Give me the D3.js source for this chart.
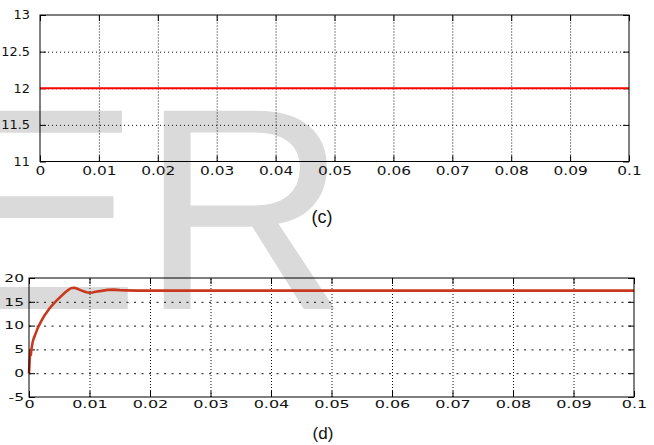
<!DOCTYPE html>
<html>
<head>
<meta charset="utf-8">
<script src="https://cdn.jsdelivr.net/npm/d3@7/dist/d3.min.js"></script>
<style>
  html, body { margin: 0; padding: 0; background: #fff; }
  svg { display: block; }
</style>
</head>
<body>
<script>
// Shared time axis
const timeTicks = [0, 0.01, 0.02, 0.03, 0.04, 0.05, 0.06, 0.07, 0.08, 0.09, 0.1];
const timeTickLabels = ["0", "0.01", "0.02", "0.03", "0.04", "0.05", "0.06", "0.07", "0.08", "0.09", "0.1"];

// Panel (c): constant output voltage
const voltTicks = [11, 11.5, 12, 12.5, 13];
const voltTickLabels = ["11", "11.5", "12", "12.5", "13"];
const voltTime = [0, 0.1];
const voltValues = [12, 12];

// Panel (d): current start-up transient
const currTicks = [-5, 0, 5, 10, 15, 20];
const currTickLabels = ["-5", "0", "5", "10", "15", "20"];
const currTime = [0, 0.0001, 0.0002, 0.0003, 0.0004, 0.0006, 0.0008, 0.001, 0.0013, 0.0016,
  0.002, 0.0025, 0.003, 0.0035, 0.004, 0.0045, 0.005, 0.0055, 0.006, 0.0065,
  0.007, 0.0075, 0.008, 0.0085, 0.009, 0.0095, 0.01, 0.0105, 0.011, 0.012,
  0.013, 0.014, 0.015, 0.016, 0.018, 0.1];
const currValues = [0, 2.5, 4.8, 3.8, 5.0, 6.5, 7.4, 8.0, 9.0, 9.9,
  10.9, 12.0, 12.9, 13.8, 14.5, 15.2, 15.8, 16.4, 17.0, 17.5,
  17.9, 17.95, 17.75, 17.45, 17.2, 17.0, 16.9, 16.95, 17.1, 17.3,
  17.5, 17.55, 17.45, 17.4, 17.35, 17.35];

const W = 654, H = 445;
const svg = d3.select("body").append("svg").attr("width", W).attr("height", H);

// Background watermark lettering
svg.append("text")
  .attr("x", -52).attr("y", 309)
  .attr("font-family", "Liberation Sans, Arial, sans-serif")
  .attr("font-size", 288)
  .attr("fill", "#dadada")
  .text("ER");

function drawPanel(cfg) {
  const x = d3.scaleLinear().domain([0, 0.1]).range([cfg.left, cfg.right]);
  const y = d3.scaleLinear().domain(cfg.yDomain).range([cfg.bottom, cfg.top]);
  const w = cfg.right - cfg.left, h = cfg.bottom - cfg.top;
  const g = svg.append("g");

  const innerX = timeTicks.slice(1, -1);
  const innerY = cfg.yTicks.slice(1, -1);

  // dotted grid
  const gx = g.append("g").attr("transform", `translate(0,${cfg.bottom})`)
    .call(d3.axisBottom(x).tickValues(innerX).tickSize(-h).tickFormat(""));
  gx.select(".domain").remove();
  gx.selectAll("line").attr("stroke", "#111").attr("stroke-dasharray", cfg.vDash);

  const gy = g.append("g").attr("transform", `translate(${cfg.left},0)`)
    .call(d3.axisLeft(y).tickValues(innerY).tickSize(-w).tickFormat(""));
  gy.select(".domain").remove();
  gy.selectAll("line").attr("stroke", "#111").attr("stroke-dasharray", cfg.hDash);

  // inward ticks on all four sides
  const tk = 6;
  const sides = [
    [d3.axisBottom(x).tickValues(timeTicks), `translate(0,${cfg.bottom})`],
    [d3.axisTop(x).tickValues(timeTicks), `translate(0,${cfg.top})`],
    [d3.axisLeft(y).tickValues(cfg.yTicks), `translate(${cfg.left},0)`],
    [d3.axisRight(y).tickValues(cfg.yTicks), `translate(${cfg.right},0)`]
  ];
  sides.forEach(([ax, tr]) => {
    const s = g.append("g").attr("transform", tr).call(ax.tickSize(-tk).tickFormat(""));
    s.select(".domain").remove();
    s.selectAll("line").attr("stroke", "#000");
  });

  // data line
  const pts = cfg.xs.map((t, i) => [t, cfg.ys[i]]);
  g.append("path")
    .datum(pts)
    .attr("fill", "none")
    .attr("stroke", cfg.color)
    .attr("stroke-width", cfg.lineWidth)
    .attr("stroke-linejoin", "round")
    .attr("d", d3.line().x(d => x(d[0])).y(d => y(d[1])));

  // frame
  g.append("rect")
    .attr("x", cfg.left).attr("y", cfg.top)
    .attr("width", w).attr("height", h)
    .attr("fill", "none").attr("stroke", "#000").attr("stroke-width", 1);

  // tick labels
  const lx = g.append("g").attr("transform", `translate(0,${cfg.bottom})`)
    .call(d3.axisBottom(x).tickValues(timeTicks).tickSize(0)
      .tickPadding(cfg.xPad).tickFormat((d, i) => timeTickLabels[i]));
  lx.select(".domain").remove();
  lx.selectAll("text")
    .attr("font-family", "DejaVu Sans, sans-serif")
    .attr("font-size", cfg.fontSize)
    .attr("fill", "#111")
    .attr("transform", `scale(${cfg.sx},1)`);

  const ly = g.append("g").attr("transform", `translate(${cfg.left},0)`)
    .call(d3.axisLeft(y).tickValues(cfg.yTicks).tickSize(0)
      .tickFormat((d, i) => cfg.yLabels[i]));
  ly.select(".domain").remove();
  ly.selectAll("text")
    .attr("font-family", "DejaVu Sans, sans-serif")
    .attr("font-size", cfg.fontSize)
    .attr("fill", "#111")
    .attr("x", -cfg.yPad / cfg.ysx)
    .attr("transform", `scale(${cfg.ysx},1)`);

  // panel caption
  svg.append("text")
    .attr("x", cfg.capX).attr("y", cfg.capY)
    .attr("text-anchor", "middle")
    .attr("font-family", "Liberation Sans, Arial, sans-serif")
    .attr("font-size", cfg.capSize)
    .attr("fill", "#111")
    .text(cfg.caption);
}

drawPanel({
  left: 40, right: 629, top: 15, bottom: 161.5,
  yDomain: [11, 13], yTicks: voltTicks, yLabels: voltTickLabels,
  xs: voltTime, ys: voltValues, color: "#ff0000", lineWidth: 2,
  vDash: "1,2", hDash: "1,3",
  fontSize: 12.3, sx: 1.25, ysx: 1.05, xPad: 5, yPad: 10,
  caption: "(c)", capX: 322, capY: 223, capSize: 18
});

drawPanel({
  left: 29, right: 634, top: 278, bottom: 397,
  yDomain: [-5, 20], yTicks: currTicks, yLabels: currTickLabels,
  xs: currTime, ys: currValues, color: "#c8381e", lineWidth: 2.6,
  vDash: "1,2", hDash: "2,5.5",
  fontSize: 10, sx: 1.6, ysx: 1.55, xPad: 4, yPad: 5,
  caption: "(d)", capX: 323, capY: 439, capSize: 17
});
</script>
</body>
</html>
